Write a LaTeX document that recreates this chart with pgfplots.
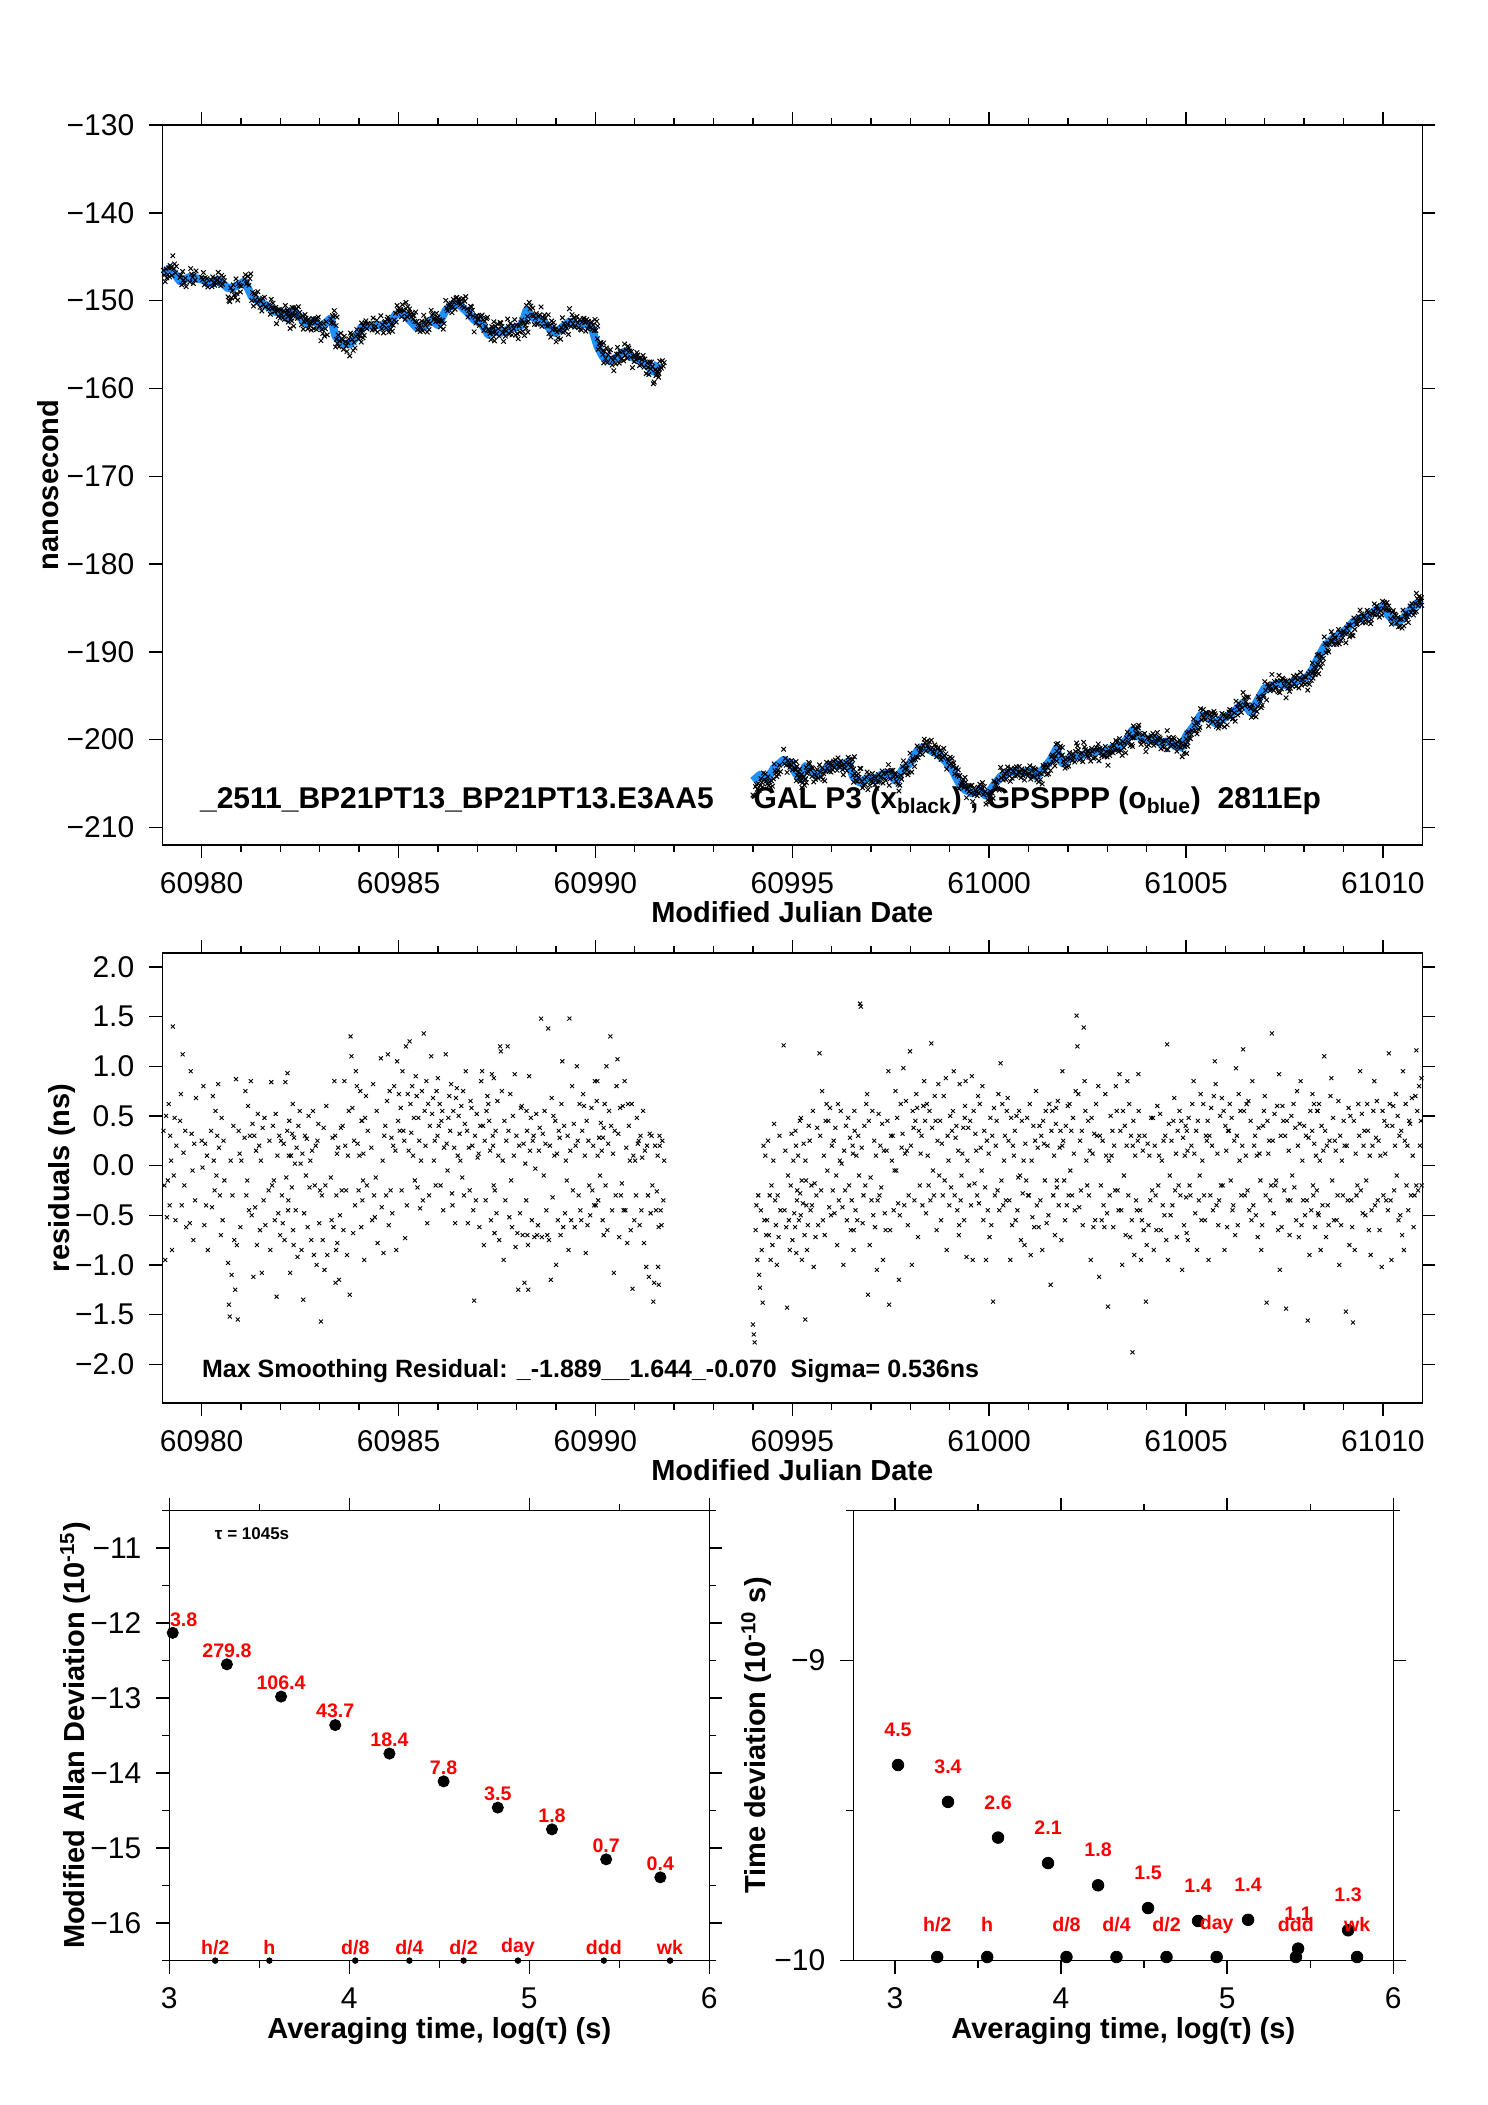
\documentclass[border=0pt]{standalone}
\usepackage{fontspec}
\setmainfont{Liberation Sans}
\usepackage{pgfplots}
\usepackage{pgfplotstable}
\pgfplotsset{compat=1.18}

\definecolor{smblue}{RGB}{30,144,255}
\newcommand\tickfont{\fontsize{15}{17}\selectfont}
\newcommand\labfont{\fontsize{14.5}{17}\selectfont\bfseries}
\newcommand\annfont{\fontsize{15}{18}\selectfont\bfseries}
\newcommand\maxfont{\fontsize{12.5}{15}\selectfont\bfseries}
\newcommand\redfont{\fontsize{9.8}{11}\selectfont\bfseries}
\newcommand\taufont{\fontsize{8.5}{10}\selectfont\bfseries}

% t = MJD, s = smoothed (ns), r1..r8 = residuals sampled every 0.0225 d from t
\pgfplotstableread{
t s r1 r2 r3 r4 r5 r6 r7 r8
60979.03 -146.9 0.35 -0.20 -0.95 0.50 -0.52 -0.15 0.62 -0.40
60979.20 -146.3 0.30 0.05 -0.85 1.40 -0.10 0.48 -0.55 0.20
60979.45 -147.8 0.45 0.72 -0.40 1.12 0.13 -0.20 0.35 -0.62
60979.70 -147.3 -0.58 0.95 0.32 -0.05 -0.75 0.22 -0.35 0.68
60980.00 -147.6 0.25 -0.02 0.80 -0.60 0.22 -0.40 0.10 -0.85
60980.24 -148.0 0.35 -0.42 0.70 0.05 -0.25 0.55 -0.10 0.30
60980.42 -147.6 0.82 0.18 -0.30 -0.70 0.48 -0.55 0.25 -0.15
60980.67 -148.6 -0.98 -1.40 -1.52 0.05 -1.10 -0.30 0.40 -0.75
60980.85 -148.4 -1.25 0.87 -0.80 -1.55 0.35 0.12 -0.62 0.05
60981.09 -147.8 0.28 0.75 -0.30 -0.15 0.60 -0.45 0.30 0.85
60981.27 -149.5 -0.50 0.42 -1.12 0.30 -0.42 0.15 -0.80 0.52
60981.46 -150.1 0.20 -0.65 0.05 -1.08 0.38 -0.35 0.48 -0.60
60981.70 -150.7 -0.25 0.25 -0.85 0.84 -0.20 0.40 -0.15 -0.55
60981.88 -151.3 0.52 -1.32 0.10 -0.48 0.30 -0.70 0.25 -0.30
60982.06 -151.4 -0.58 0.22 -0.75 0.84 -0.12 0.35 -0.45 0.10
60982.18 -152.1 0.93 -0.35 0.45 -1.08 0.10 -0.22 0.62 -0.80
60982.30 -151.1 0.32 -0.65 0.28 0.02 -0.45 0.18 -0.92 0.40
60982.49 -151.9 0.55 0.02 -0.85 0.12 -1.35 -0.48 0.30 -0.10
60982.67 -152.6 0.27 -0.62 0.50 -0.22 0.05 -0.75 0.15 0.55
60982.85 -152.3 -0.90 -0.20 0.20 -1.00 0.25 0.42 -0.58 -0.25
60983.03 -153.0 -1.57 -0.30 -0.75 0.38 -1.05 -0.20 0.60 -0.90
60983.28 -152.0 -0.12 -0.55 0.28 -0.62 0.85 0.30 -0.85 0.12
60983.40 -154.1 -1.18 -0.30 -0.78 0.18 -1.15 -0.50 0.38 -0.25
60983.58 -154.9 0.40 -0.65 0.85 0.20 -0.25 -0.90 0.10 0.55
60983.76 -155.0 -1.30 1.30 1.10 0.58 -0.68 0.25 -0.40 0.95
60983.94 -154.1 0.80 0.22 -0.25 0.10 0.75 -0.62 0.45 -0.15
60984.06 -153.0 0.45 -0.35 0.12 -0.95 0.48 0.70 -0.20 0.35
60984.31 -152.8 0.18 -0.55 0.82 -0.30 -0.52 -0.12 0.55 -0.78
60984.55 -152.8 1.08 -0.42 0.05 -0.88 0.30 0.40 -0.30 0.65
60984.73 -153.0 1.12 -0.60 0.75 -0.25 0.28 -0.48 0.20 0.80
60984.92 -151.6 0.15 -0.85 1.05 0.45 0.72 0.35 0.58 -0.25
60985.10 -151.4 0.95 0.35 0.25 -0.73 1.20 -0.40 0.72 0.15
60985.28 -152.2 1.25 0.62 0.33 0.80 0.10 0.48 -0.15 0.90
60985.46 -153.1 0.70 -0.22 0.48 0.25 -0.43 0.05 0.75 -0.35
60985.64 -153.0 1.33 0.55 0.20 0.85 -0.58 0.62 -0.30 0.40
60985.83 -152.2 1.10 0.52 0.68 0.05 0.25 -0.20 0.75 0.30
60986.00 -152.8 0.88 0.40 0.62 -0.20 0.45 0.55 -0.45 0.18
60986.20 -151.1 1.12 0.22 -0.05 0.48 0.70 0.35 0.82 -0.28
60986.37 -150.4 -0.40 0.55 0.18 -0.58 0.68 0.78 0.10 0.50
60986.55 -150.5 0.32 0.05 0.60 -0.12 0.75 -0.30 0.42 0.95
60986.74 -151.3 0.35 -0.58 0.18 -0.25 0.65 0.58 0.20 -0.45
60986.92 -152.2 -1.36 0.30 -0.35 0.52 0.08 0.12 -0.62 0.40
60987.10 -152.6 0.85 0.95 0.40 -0.80 0.25 -0.35 0.55 0.70
60987.28 -153.9 0.62 0.45 0.15 -0.55 0.92 0.30 -0.20 -0.68
60987.40 -153.3 0.20 0.88 -0.25 0.35 -0.48 0.65 0.10 -0.75
60987.58 -153.7 1.20 1.15 0.75 0.05 -0.95 0.45 -0.35 0.25
60987.77 -153.3 1.20 0.35 -0.52 0.72 -0.15 -0.62 0.50 0.10
60987.95 -153.1 0.92 -0.82 0.30 -0.68 -1.25 0.20 -0.48 0.58
60988.13 -152.8 0.60 -0.70 0.22 -1.18 0.02 -0.35 0.35 -0.80
60988.25 -151.1 0.55 -0.70 -1.25 0.90 0.15 0.48 -0.55 0.25
60988.43 -152.0 0.30 -0.72 -0.03 0.52 -0.70 -0.60 0.15 0.38
60988.62 -152.2 1.48 -0.72 0.32 -0.10 0.55 0.22 -0.45 -0.70
60988.80 -153.0 1.38 -0.75 0.20 -1.15 0.68 -0.32 0.50 0.10
60988.98 -153.7 0.45 -1.00 0.12 -0.55 0.35 0.28 -0.70 0.62
60989.16 -153.0 1.05 -0.62 0.40 -0.48 0.05 -0.15 0.30 -0.85
60989.34 -152.4 1.48 0.15 -0.55 0.80 -0.25 0.42 -0.62 0.20
60989.53 -152.8 1.00 0.25 -0.30 0.62 -0.45 -0.55 0.35 0.72
60989.71 -152.6 0.60 0.10 -0.88 0.45 -0.60 0.25 -0.20 -0.50
60989.90 -153.0 0.58 -0.25 0.20 -0.40 0.85 -0.40 0.65 0.10
60990.05 -155.2 0.85 -0.35 0.28 -0.10 0.43 0.15 -0.55 0.38
60990.19 -156.4 0.28 -0.70 0.62 -0.20 1.00 -0.65 0.22 0.55
60990.38 -156.9 1.30 0.40 -0.45 0.12 -1.08 0.35 -0.30 0.80
60990.56 -156.4 1.07 0.32 -0.72 0.58 -0.30 -0.18 0.60 -0.45
60990.74 -155.8 0.85 -0.45 0.18 -0.78 0.62 0.40 0.05 -0.65
60990.92 -156.4 0.62 -1.24 0.10 -0.55 0.05 -0.30 0.48 0.22
60991.10 -156.8 0.25 -0.60 0.30 -0.45 0.08 0.55 -0.78 0.15
60991.29 -157.3 -1.02 0.20 -0.30 -1.12 0.32 -0.48 0.30 -0.20
60991.47 -158.1 -1.37 -1.18 0.20 -0.45 -0.26 0.10 -0.62 0.30
60991.59 -157.1 -1.02 -1.20 0.20 -0.45 -0.60 0.25 -0.35 0.05
}\segA

\pgfplotstableread{
t s r1 r2 r3 r4 r5 r6 r7 r8
60994.00 -204.7 -1.60 -1.70 -1.78 -0.65 -0.40 -0.95 -0.30 -1.10
60994.18 -204.0 -1.23 -0.45 -0.85 -1.38 0.20 -0.55 0.10 -0.70
60994.36 -204.5 -0.55 0.25 -0.70 -0.30 -0.95 -0.20 -0.80 0.05
60994.54 -203.2 0.42 -0.35 -0.60 -1.00 -0.30 -0.72 0.30 -0.45
60994.78 -202.3 1.21 -0.45 0.15 -0.62 -1.43 -0.10 -0.55 -0.85
60994.96 -202.7 -0.20 0.32 -0.75 0.05 -0.48 -0.62 0.20 -0.35
60995.08 -203.8 0.35 -0.88 -0.25 0.10 -0.55 0.45 -0.50 -0.15
60995.20 -204.5 -0.28 0.48 -0.95 -0.38 0.22 -0.70 0.05 -0.40
60995.33 -203.0 -1.55 -0.15 -0.85 -0.60 0.40 0.25 -0.45 -0.20
60995.50 -203.8 -0.40 0.55 -1.02 -0.18 -0.72 -0.30 0.38 -0.60
60995.69 -204.0 1.13 0.30 -0.25 0.75 -0.55 0.10 -0.70 0.45
60995.87 -203.2 0.62 -0.05 0.45 -0.42 0.58 -0.50 0.20 -0.25
60996.05 -202.7 0.25 -0.48 0.38 -0.10 -0.80 0.62 -0.35 0.05
60996.23 -203.0 0.55 0.02 -0.42 -1.00 0.15 -0.25 0.40 -0.55
60996.42 -202.5 0.48 -0.20 0.28 -0.65 -0.35 0.20 -0.85 0.55
60996.54 -204.2 0.12 -0.65 0.35 -0.45 0.10 -0.55 0.30 -0.10
60996.72 -204.9 1.63 1.60 0.18 -0.58 -0.30 0.40 -0.20 0.62
60996.90 -204.4 0.72 -1.30 0.45 -0.80 -0.12 -0.35 0.55 -0.50
60997.08 -204.5 0.25 -0.62 0.10 -1.05 -0.35 0.52 -0.30 0.20
60997.26 -204.0 -0.22 0.42 -0.95 0.15 -0.48 -0.65 0.15 0.45
60997.44 -203.8 0.95 -1.40 -0.65 0.30 0.05 0.30 -0.45 -0.05
60997.62 -204.7 0.75 -0.05 0.48 -0.38 -1.15 -0.50 0.62 0.18
60997.80 -203.4 0.32 0.98 -0.40 0.12 0.65 0.15 -0.60 -0.30
60997.99 -202.7 1.15 0.20 -1.00 0.55 0.38 -0.35 0.45 0.72
60998.17 -201.3 0.58 -0.72 0.35 -0.20 0.12 0.30 -0.40 0.60
60998.35 -200.8 0.85 0.45 -0.48 0.62 0.10 -0.20 0.55 -0.35
60998.53 -201.3 1.23 0.38 -0.05 -0.30 0.70 0.45 -0.65 0.25
60998.71 -201.7 0.82 -0.10 0.45 -0.55 0.22 -0.30 0.70 -0.15
60998.90 -202.5 0.88 -0.85 0.30 0.05 -0.40 0.50 -0.22 0.35
60999.08 -203.6 0.55 0.95 -0.30 0.28 0.40 -0.45 0.15 -0.60
60999.23 -204.9 -0.70 0.82 -0.35 -0.10 0.12 0.38 -0.55 0.60
60999.38 -205.7 0.48 0.85 -0.92 0.05 0.38 -0.20 0.45 -0.40
60999.56 -206.1 0.90 -0.95 0.55 -0.18 0.32 0.15 -0.30 0.70
60999.74 -205.7 -0.38 0.62 0.18 -0.05 0.80 -0.55 0.35 -0.22
60999.92 -206.4 -0.95 0.25 -0.45 0.12 -0.72 0.48 -0.60 0.30
61000.10 -205.3 -1.37 0.58 -0.30 0.20 0.45 -0.25 0.72 -0.45
61000.29 -204.2 1.03 -0.15 0.62 -0.40 0.05 0.30 -0.35 0.55
61000.47 -203.8 0.68 0.25 -0.35 -0.95 0.48 -0.60 0.20 0.10
61000.65 -203.6 0.35 -0.55 0.50 -0.45 -0.12 0.55 -0.10 -0.75
61000.83 -203.8 0.45 -0.28 0.05 -0.80 0.22 -0.15 0.48 -0.30
61001.01 -203.6 -0.30 0.62 -0.90 0.05 -0.52 0.40 -0.62 0.25
61001.19 -204.2 0.75 -0.40 0.18 -0.62 0.40 -0.35 0.30 -0.85
61001.37 -203.4 0.45 0.22 -0.15 0.55 -0.58 0.20 -0.50 0.62
61001.56 -202.3 -1.20 0.35 0.55 -0.30 0.10 -0.70 0.42 -0.15
61001.70 -201.1 0.58 -0.22 0.65 -0.40 0.18 0.35 -0.75 0.20
61001.86 -202.7 0.95 0.25 -0.15 -0.55 0.40 -0.40 0.60 -0.30
61002.04 -202.1 0.62 -0.05 0.35 -0.30 0.48 0.12 -0.45 0.75
61002.22 -201.9 1.51 1.20 0.72 -0.42 0.25 -0.25 0.35 -0.60
61002.40 -201.7 1.39 0.85 0.55 0.05 -0.20 0.45 -0.30 0.15
61002.58 -201.5 -0.95 0.48 0.12 -0.62 0.32 -0.55 0.62 0.30
61002.77 -201.3 0.80 -1.12 0.30 -0.20 -0.55 0.25 -0.40 -0.62
61002.95 -201.5 0.72 0.10 -0.48 -1.42 0.05 -0.30 0.50 0.10
61003.13 -200.9 0.35 -0.62 0.20 -0.25 0.80 0.55 -0.25 -0.45
61003.31 -200.8 0.92 0.35 -0.45 -1.00 0.55 -0.10 0.40 -0.70
61003.49 -200.0 0.20 0.85 -0.30 0.62 -0.72 0.30 -0.55 0.20
61003.64 -198.9 -1.88 0.45 -0.90 0.10 -0.35 -0.45 0.25 0.55
61003.79 -199.6 0.92 0.30 -0.45 -0.95 -0.55 0.15 -0.65 0.30
61003.98 -200.0 -1.37 -0.80 0.22 -0.60 0.10 -0.35 0.48 -0.25
61004.16 -199.8 0.48 -0.85 0.20 -0.30 -0.65 0.60 -0.20 0.10
61004.34 -200.4 0.52 -0.65 0.05 -0.40 0.25 -0.50 0.30 -0.75
61004.52 -200.2 1.22 -0.95 0.42 -0.10 -0.50 0.25 -0.40 0.45
61004.70 -200.6 0.68 -0.25 0.12 -0.72 0.35 -0.20 0.55 -0.30
61004.88 -200.9 0.45 -1.05 0.28 -0.60 0.10 0.40 -0.68 0.15
61005.00 -199.6 -0.32 0.35 -0.75 0.48 -0.20 -0.30 0.20 0.62
61005.19 -198.5 0.85 0.12 -0.48 0.35 -0.85 0.45 -0.35 -0.10
61005.37 -197.2 0.72 -0.55 0.05 0.62 -0.30 -0.55 0.30 0.25
61005.55 -197.5 0.45 -0.95 0.30 -0.30 0.58 0.20 -0.45 0.70
61005.73 -198.1 1.05 0.82 -0.40 0.12 -0.60 -0.35 0.50 -0.20
61005.91 -197.7 0.68 -0.20 0.55 -0.85 0.40 0.15 -0.62 0.35
61006.09 -197.2 0.35 0.62 -0.15 0.48 -0.45 -0.40 0.25 -0.70
61006.27 -196.6 0.98 0.30 -0.60 0.72 0.05 0.55 -0.30 0.20
61006.45 -195.8 1.17 0.55 -0.30 0.10 0.62 -0.25 0.65 -0.45
61006.64 -196.9 0.45 -0.55 0.85 -0.40 0.20 0.30 -0.50 0.10
61006.82 -195.5 -0.72 0.38 0.12 -0.15 -0.85 -0.60 0.40 0.55
61007.00 -194.1 0.70 -0.30 -1.38 0.45 0.12 0.25 -0.35 -0.20
61007.18 -193.9 1.33 0.25 -0.48 0.52 -0.20 -0.15 0.60 -0.65
61007.36 -193.6 0.92 -1.05 0.30 -0.62 0.60 0.45 -0.25 0.30
61007.54 -193.8 -1.44 0.45 -0.35 0.15 -0.70 -0.35 0.50 -0.10
61007.73 -193.4 0.62 -0.22 0.38 -0.55 0.75 0.20 -0.72 0.42
61007.91 -193.2 0.85 -0.60 0.05 -0.35 0.40 -0.50 0.30 -0.35
61008.09 -192.8 -1.56 0.28 -0.90 0.55 -0.45 0.35 -0.20 0.62
61008.21 -192.0 0.72 -0.30 0.22 -0.62 0.10 -0.25 0.55 -0.50
61008.33 -190.9 0.55 -0.48 0.62 0.05 -0.85 0.40 -0.40 0.15
61008.51 -189.4 1.10 0.35 -0.72 0.20 -0.40 -0.60 0.25 0.70
61008.69 -188.6 0.88 -0.15 0.48 -0.55 0.25 0.15 -0.55 -0.30
61008.87 -188.1 0.65 -1.00 0.30 -0.60 0.05 -0.30 0.45 0.20
61009.06 -187.5 -1.47 0.20 -0.35 0.58 -0.80 0.50 -0.35 -0.62
61009.24 -186.6 -1.58 0.45 -0.85 0.12 -0.30 -0.20 0.62 0.30
61009.42 -186.2 0.95 -0.25 0.52 -0.48 0.20 0.35 -0.50 -0.15
61009.60 -185.9 0.62 0.35 -0.65 0.10 -0.90 -0.45 0.20 0.55
61009.78 -185.4 0.85 -0.40 0.28 0.65 -0.35 0.25 -0.65 0.10
61009.97 -184.8 -1.02 0.55 -0.30 0.45 0.12 -0.35 0.40 -0.45
61010.15 -185.9 1.13 0.62 -0.35 -0.95 0.40 0.60 -0.25 0.20
61010.33 -186.6 0.72 -0.10 0.50 -0.55 0.30 -0.50 0.35 -0.70
61010.51 -186.2 0.95 -0.85 0.25 0.62 -0.20 0.20 -0.45 0.45
61010.69 -185.2 0.42 -0.30 0.68 0.10 -0.62 -0.30 0.70 -0.20
61010.85 -184.5 1.16 0.55 -0.25 0.80 0.20 0.45 -0.20 0.62
61010.98 -184.7 0.88 0.35 -0.15 0.45 -0.35 -0.25 0.55 0.10
}\segB

\pgfplotsset{
  panel/.style={
    scale only axis, anchor=south west,
    tick align=outside,
    major tick length=6.5pt, minor tick length=3.5pt,
    axis line style={line width=0.7pt},
    every tick/.style={black, line width=0.7pt},
    tick label style={font=\tickfont},
    xticklabel style={yshift=-3.5pt},
    yticklabel style={xshift=-4pt},
    label style={font=\labfont},
    scaled ticks=false,
  },
  mjd/.style={
    panel, width=630pt,
    xmin=60979, xmax=61011,
    xtick={60980,60985,60990,60995,61000,61005,61010},
    xticklabels={60980,60985,60990,60995,61000,61005,61010},
    minor x tick num=4,
    xlabel={Modified Julian Date},
  },
  rawx/.style={only marks, mark=x, black, mark size=1.6pt, mark options={line width=0.5pt}},
  resx/.style={only marks, mark=x, black, mark size=1.4pt, mark options={line width=0.45pt}},
}

\begin{document}
\begin{tikzpicture}
\path[use as bounding box] (0pt,0pt) rectangle (744pt,1052.5pt);

% ---- top: time offsets
\begin{axis}[mjd, at={(81.15pt,630pt)}, height=360pt,
  ymin=-212, ymax=-130,
  ytick={-210,-200,-190,-180,-170,-160,-150,-140,-130},
  yticklabels={−210,−200,−190,−180,−170,−160,−150,−140,−130},
  ylabel={nanosecond},
  ylabel style={at={(axis description cs:-0.0907,0.5)}, anchor=center},
  xlabel style={at={(axis description cs:0.5,-0.1083)}, anchor=base},
]
\addplot[rawx] table[x=t, y expr=\thisrow{s}+\thisrow{r1}] {\segA};
\addplot[rawx] table[x expr=\thisrow{t}+0.0225, y expr=\thisrow{s}+\thisrow{r2}] {\segA};
\addplot[rawx] table[x expr=\thisrow{t}+0.045, y expr=\thisrow{s}+\thisrow{r3}] {\segA};
\addplot[rawx] table[x expr=\thisrow{t}+0.0675, y expr=\thisrow{s}+\thisrow{r4}] {\segA};
\addplot[rawx] table[x expr=\thisrow{t}+0.09, y expr=\thisrow{s}+\thisrow{r5}] {\segA};
\addplot[rawx] table[x expr=\thisrow{t}+0.1125, y expr=\thisrow{s}+\thisrow{r6}] {\segA};
\addplot[rawx] table[x expr=\thisrow{t}+0.135, y expr=\thisrow{s}+\thisrow{r7}] {\segA};
\addplot[rawx] table[x expr=\thisrow{t}+0.1575, y expr=\thisrow{s}+\thisrow{r8}] {\segA};
\addplot[rawx] table[x=t, y expr=\thisrow{s}+\thisrow{r1}] {\segB};
\addplot[rawx] table[x expr=\thisrow{t}+0.0225, y expr=\thisrow{s}+\thisrow{r2}] {\segB};
\addplot[rawx] table[x expr=\thisrow{t}+0.045, y expr=\thisrow{s}+\thisrow{r3}] {\segB};
\addplot[rawx] table[x expr=\thisrow{t}+0.0675, y expr=\thisrow{s}+\thisrow{r4}] {\segB};
\addplot[rawx] table[x expr=\thisrow{t}+0.09, y expr=\thisrow{s}+\thisrow{r5}] {\segB};
\addplot[rawx] table[x expr=\thisrow{t}+0.1125, y expr=\thisrow{s}+\thisrow{r6}] {\segB};
\addplot[rawx] table[x expr=\thisrow{t}+0.135, y expr=\thisrow{s}+\thisrow{r7}] {\segB};
\addplot[rawx] table[x expr=\thisrow{t}+0.1575, y expr=\thisrow{s}+\thisrow{r8}] {\segB};
\addplot[smblue, line width=4pt, line join=round] table[x=t, y=s] {\segA};
\addplot[smblue, line width=4pt, line join=round] table[x=t, y=s] {\segB};
\node[anchor=base west, inner sep=0pt, font=\annfont] at (axis cs:60979.95,-207.8)
  {\_2511\_BP21PT13\_BP21PT13.E3AA5};
\node[anchor=base west, inner sep=0pt, font=\annfont] at (axis cs:60994.01,-207.8)
  {GAL P3 (x\textsubscript{black}) , GPSPPP (o\textsubscript{blue})\ \ 2811Ep};
\end{axis}

% ---- middle: residuals
\begin{axis}[mjd, at={(81.15pt,351pt)}, height=225pt,
  ymin=-2.39, ymax=2.14,
  ytick={-2,-1.5,-1,-0.5,0,0.5,1,1.5,2},
  yticklabels={−2.0,−1.5,−1.0,−0.5,0.0,0.5,1.0,1.5,2.0},
  ylabel={residuals (ns)},
  ylabel style={at={(axis description cs:-0.0796,0.5)}, anchor=center},
  xlabel style={at={(axis description cs:0.5,-0.1733)}, anchor=base},
]
\addplot[resx] table[x=t, y=r1] {\segA};
\addplot[resx] table[x expr=\thisrow{t}+0.0225, y=r2] {\segA};
\addplot[resx] table[x expr=\thisrow{t}+0.045, y=r3] {\segA};
\addplot[resx] table[x expr=\thisrow{t}+0.0675, y=r4] {\segA};
\addplot[resx] table[x expr=\thisrow{t}+0.09, y=r5] {\segA};
\addplot[resx] table[x expr=\thisrow{t}+0.1125, y=r6] {\segA};
\addplot[resx] table[x expr=\thisrow{t}+0.135, y=r7] {\segA};
\addplot[resx] table[x expr=\thisrow{t}+0.1575, y=r8] {\segA};
\addplot[resx] table[x=t, y=r1] {\segB};
\addplot[resx] table[x expr=\thisrow{t}+0.0225, y=r2] {\segB};
\addplot[resx] table[x expr=\thisrow{t}+0.045, y=r3] {\segB};
\addplot[resx] table[x expr=\thisrow{t}+0.0675, y=r4] {\segB};
\addplot[resx] table[x expr=\thisrow{t}+0.09, y=r5] {\segB};
\addplot[resx] table[x expr=\thisrow{t}+0.1125, y=r6] {\segB};
\addplot[resx] table[x expr=\thisrow{t}+0.135, y=r7] {\segB};
\addplot[resx] table[x expr=\thisrow{t}+0.1575, y=r8] {\segB};
\node[anchor=base west, inner sep=0pt, font=\maxfont] at (axis cs:60980.0,-2.13)
  {Max Smoothing Residual: \_-1.889\_\_1.644\_-0.070\ \ Sigma= 0.536ns};
\end{axis}

% ---- bottom left: modified Allan deviation
\begin{axis}[panel, at={(84.65pt,72.2pt)}, width=270pt, height=225pt, clip=false,
  xmin=3, xmax=6, ymin=-16.5, ymax=-10.5,
  xtick={3,4,5,6}, xticklabels={3,4,5,6}, minor xtick={3.5,4.5,5.5},
  ytick={-16,-15,-14,-13,-12,-11},
  yticklabels={−16,−15,−14,−13,−12,−11},
  minor ytick={-16.5,-15.5,-14.5,-13.5,-12.5,-11.5,-10.5},
  xlabel={Averaging time, log(τ) (s)},
  ylabel={Modified Allan Deviation (10\textsuperscript{-15})},
  ylabel style={at={(axis description cs:-0.174,0.5)}, anchor=center},
  xlabel style={at={(axis description cs:0.5,-0.1733)}, anchor=base},
]
\addplot[only marks, mark=*, black, mark size=2.8pt] coordinates {(3.019,-12.13)};
\addplot[only marks, mark=*, black, mark size=2.8pt,
  nodes near coords, point meta=explicit symbolic,
  every node near coord/.append style={font=\redfont, text=red, anchor=center, yshift=7pt}]
  coordinates {
  (3.320,-12.55) [279.8]
  (3.621,-12.98) [106.4]
  (3.922,-13.36) [43.7]
  (4.223,-13.74) [18.4]
  (4.524,-14.11) [7.8]
  (4.825,-14.46) [3.5]
  (5.126,-14.75) [1.8]
  (5.427,-15.15) [0.7]
  (5.728,-15.39) [0.4]
  };
\addplot[only marks, mark=*, black, mark size=1.4pt,
  nodes near coords, point meta=explicit symbolic,
  every node near coord/.append style={font=\redfont, text=red, anchor=center, yshift=6.7pt}]
  coordinates {
  (3.255,-16.5) [h/2]
  (3.556,-16.5) [h]
  (4.033,-16.5) [d/8]
  (4.334,-16.5) [d/4]
  (4.635,-16.5) [d/2]
  (4.937,-16.5) [day]
  (5.414,-16.5) [ddd]
  (5.782,-16.5) [wk]
  };
\node[font=\redfont, text=red] at (axis cs:3.08,-11.95) {3.8};
\node[font=\taufont] at (axis cs:3.46,-10.81) {τ = 1045s};
\end{axis}

% ---- bottom right: time deviation
\begin{axis}[panel, at={(426.65pt,72.2pt)}, width=270pt, height=225pt, clip=false,
  xmin=2.75, xmax=6, ymin=-10, ymax=-8.5,
  xtick={3,4,5,6}, xticklabels={3,4,5,6}, minor xtick={3.5,4.5,5.5},
  ytick={-10,-9}, yticklabels={−10,−9},
  minor ytick={-9.5,-8.5},
  xlabel={Averaging time, log(τ) (s)},
  ylabel={Time deviation (10\textsuperscript{-10} s)},
  ylabel style={at={(axis description cs:-0.179,0.5)}, anchor=center},
  xlabel style={at={(axis description cs:0.5,-0.1733)}, anchor=base},
]
\addplot[only marks, mark=*, black, mark size=2.9pt,
  nodes near coords, point meta=explicit symbolic,
  every node near coord/.append style={font=\redfont, text=red, anchor=center, yshift=17.6pt}]
  coordinates {
  (3.019,-9.348) [4.5]
  (3.320,-9.471) [3.4]
  (3.621,-9.590) [2.6]
  (3.922,-9.675) [2.1]
  (4.223,-9.749) [1.8]
  (4.524,-9.825) [1.5]
  (4.825,-9.868) [1.4]
  (5.126,-9.864) [1.4]
  (5.427,-9.960) [1.1]
  (5.728,-9.899) [1.3]
  };
\addplot[only marks, mark=*, black, mark size=2.9pt,
  nodes near coords, point meta=explicit symbolic,
  every node near coord/.append style={font=\redfont, text=red, anchor=center, yshift=16.3pt}]
  coordinates {
  (3.255,-9.988) [h/2]
  (3.556,-9.988) [h]
  (4.033,-9.988) [d/8]
  (4.334,-9.988) [d/4]
  (4.635,-9.988) [d/2]
  (4.937,-9.988) [day]
  (5.414,-9.988) [ddd]
  (5.782,-9.988) [wk]
  };
\end{axis}
\end{tikzpicture}
\end{document}
